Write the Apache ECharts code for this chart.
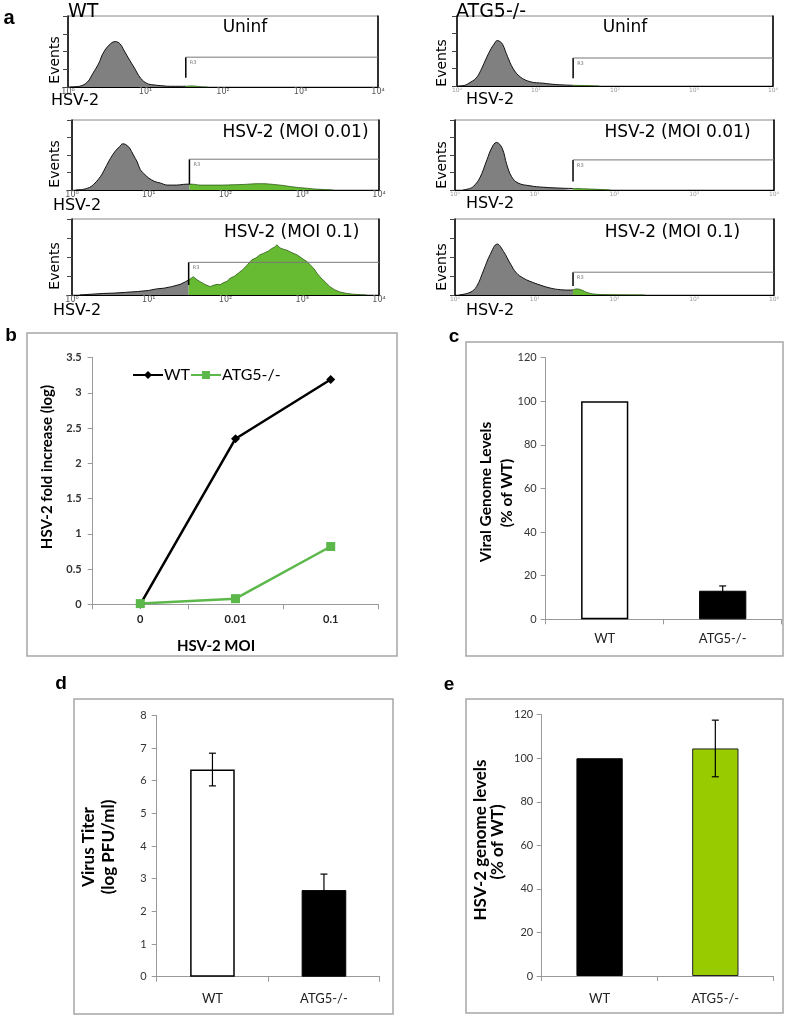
<!DOCTYPE html>
<html><head><meta charset="utf-8">
<script src="https://cdn.jsdelivr.net/npm/echarts@6/dist/echarts.min.js"></script>
<style>html,body{margin:0;padding:0;background:#fff;}#c{width:787px;height:1016px;}</style>
</head><body><div id="c"></div>
<script>
// ===== DATA =====
// Panel a: flow histograms. x = log10 decade of HSV-2 fluorescence (0..4), y = events (% of axis max)
const decadeTicks = ['10\u2070', '10\u00b9', '10\u00b2', '10\u00b3', '10\u2074'];
const histWTUninf = [[0.02,0],[0.1,0.5],[0.15,1],[0.25,7],[0.32,19],[0.4,34],[0.45,47],[0.53,59],[0.61,64],[0.67,61],[0.72,52],[0.8,37],[0.85,28],[0.94,12],[1.02,5],[1.1,3],[1.19,2],[1.32,1],[1.45,1],[1.52,1],[1.6,1.5],[1.7,0.5],[1.8,0]];
const histWT001 = [[0.05,0],[0.15,1],[0.25,5],[0.37,19],[0.45,35],[0.5,45],[0.56,55],[0.62,62],[0.66,66],[0.7,65],[0.75,60],[0.8,50],[0.85,40],[0.89,29],[0.95,22],[1.0,17],[1.08,12],[1.15,10],[1.24,7],[1.36,7],[1.45,8],[1.53,8.5],[1.6,8],[1.67,7],[1.8,7],[1.95,7],[2.1,7.5],[2.25,8],[2.41,9],[2.5,9],[2.62,8],[2.75,6.5],[2.84,5],[2.95,3.5],[3.06,2.5],[3.15,1.5],[3.23,1],[3.4,0]];
const histWT01 = [[0.1,0],[0.25,1],[0.4,2],[0.55,2.5],[0.7,3.5],[0.85,4.5],[1.0,6],[1.1,8],[1.2,9],[1.3,11],[1.41,14],[1.48,17.5],[1.52,19.7],[1.58,24],[1.63,20],[1.67,17.5],[1.73,14],[1.8,11],[1.85,13],[1.89,14],[1.93,13.5],[1.97,16],[2.02,18],[2.06,22],[2.12,25],[2.17,29],[2.22,33],[2.28,39],[2.34,46],[2.4,49],[2.45,53],[2.5,55],[2.56,58],[2.6,61],[2.64,63],[2.67,66],[2.71,62],[2.76,60],[2.8,59],[2.84,57],[2.88,55],[2.93,53],[3.0,48],[3.06,44],[3.1,40],[3.15,35],[3.19,29],[3.23,24],[3.3,17],[3.36,11],[3.42,7],[3.49,4],[3.58,2],[3.67,1],[3.84,0]];
const histKOUninf = [[0.02,0],[0.1,1],[0.15,4],[0.24,11],[0.3,22],[0.34,32],[0.42,51],[0.47,60],[0.51,65],[0.55,63],[0.58,59],[0.64,42],[0.71,25],[0.8,13],[0.93,6],[1.09,4],[1.26,2],[1.47,1],[1.68,0.5],[1.8,0]];
const histKO001 = [[0.1,0],[0.18,2],[0.23,5],[0.31,17],[0.4,43],[0.46,60],[0.52,68],[0.59,60],[0.65,36],[0.71,19],[0.79,10],[0.94,6],[1.1,4],[1.36,2.5],[1.48,2.2],[1.53,2],[1.78,1],[1.95,0]];
const histKO01 = [[0.05,0],[0.19,3.5],[0.27,11],[0.36,33],[0.44,53],[0.53,67],[0.61,57],[0.69,42],[0.77,29],[0.86,22],[0.94,18],[1.07,13],[1.2,9],[1.32,7],[1.45,6.5],[1.48,7],[1.53,8],[1.59,6.5],[1.65,3.5],[1.74,1.3],[1.9,0.5],[2.38,0]];
const histograms = [histWTUninf, histWT001, histWT01, histKOUninf, histKO001, histKO01];
const histTitles = ['Uninf', 'HSV-2 (MOI 0.01)', 'HSV-2 (MOI 0.1)', 'Uninf', 'HSV-2 (MOI 0.01)', 'HSV-2 (MOI 0.1)'];
const gateX = [1.52, 1.53, 1.52, 1.47, 1.48, 1.48];
const gateTop = [42, 44, 43, 40, 43, 30];
const gateLow = [13, 8, 13, 11, 12, 12];
const gateName = 'R3';

// Panel b
const moiCats = ['0', '0.01', '0.1'];
const foldWT = [0, 2.35, 3.19];
const foldATG5 = [0.01, 0.08, 0.82];
const foldTicks = {min: 0, max: 3.5, interval: 0.5};
// Panels c, d, e
const genoCats = ['WT', 'ATG5-/-'];
const viralGenome = [100, 13.1];
const viralGenomeErr = [0, 2.2];
const titer = [6.34, 2.65];
const titerErr = [0.5, 0.49];
const hsvGenome = [100, 104.5];
const hsvGenomeErr = [0, 13];

// ===== LAYOUT / STYLE =====
const histGrids = [
  {left: 68, top: 16, width: 310, height: 71},
  {left: 72, top: 120, width: 307, height: 70},
  {left: 72, top: 219, width: 307, height: 76},
  {left: 457, top: 16, width: 316, height: 70},
  {left: 455, top: 120, width: 319, height: 70},
  {left: 455, top: 219, width: 319, height: 76}
];
const histSmooth = [0.4, 0.3, 0, 0.4, 0.4, 0.4];
const histTickFont = [8, 8, 8, 6, 6, 6];
const histTickColor = ['#555', '#555', '#555', '#999', '#999', '#999'];
const panelGrids = [
  {left: 92.7, top: 357.7, width: 285.6, height: 246.6},
  {left: 545.7, top: 357.7, width: 236, height: 261.6},
  {left: 156.7, top: 715.3, width: 223, height: 261.4},
  {left: 541.7, top: 714.7, width: 231.5, height: 261.3}
];
const CAL = 'Lato, "Open Sans", sans-serif';
const ARI = '"DejaVu Sans", sans-serif';
const GRAY = '#808080', GREEN = '#66bb33', LGREEN = '#5cb84a', YGREEN = '#99cc00';

const grids = [], xAxes = [], yAxes = [], series = [];

// ---- panel a
histograms.forEach((h, i) => {
  grids.push(Object.assign({show: true, borderColor: '#888', borderWidth: 1, containLabel: false}, histGrids[i]));
  xAxes.push({gridIndex: i, type: 'value', min: 0, max: 4, interval: 1,
    axisLine: {show: true, onZero: false, lineStyle: {color: '#000', width: 1}},
    axisTick: {show: false}, splitLine: {show: false},
    axisLabel: {formatter: v => decadeTicks[v], fontSize: histTickFont[i], color: histTickColor[i], margin: 1, fontFamily: ARI}});
  yAxes.push({gridIndex: i, type: 'value', min: 0, max: 100, interval: 25,
    axisLine: {show: true, lineStyle: {color: '#000', width: 1.5}},
    axisTick: {show: true, length: 5, lineStyle: {color: '#444'}},
    axisLabel: {show: false}, splitLine: {show: false}});
});
histograms.forEach((h, i) => {
  yAxes.push({gridIndex: i, type: 'value', position: 'right', min: 0, max: 100,
    axisLine: {show: true, lineStyle: {color: '#000', width: 1.5}},
    axisTick: {show: false}, axisLabel: {show: false}, splitLine: {show: false}});
});
histograms.forEach((h, i) => {
  const g = gateX[i];
  series.push({type: 'line', xAxisIndex: i, yAxisIndex: i, silent: true, symbol: 'none', smooth: histSmooth[i],
    data: h.filter(p => p[0] <= g), lineStyle: {color: '#111', width: 1}, areaStyle: {color: GRAY, opacity: 1}});
  series.push({type: 'line', xAxisIndex: i, yAxisIndex: i, silent: true, symbol: 'none', smooth: histSmooth[i],
    data: h.filter(p => p[0] >= g), lineStyle: {color: '#2d5a16', width: 0.8}, areaStyle: {color: GREEN, opacity: 1}});
  series.push({type: 'line', xAxisIndex: i, yAxisIndex: i, silent: true, symbol: 'none',
    data: [[g, gateLow[i]], [g, gateTop[i]]], lineStyle: {color: '#000', width: 1.5}});
  series.push({type: 'line', xAxisIndex: i, yAxisIndex: i, silent: true, symbol: 'circle', symbolSize: 0.01, showSymbol: true,
    data: [{value: [g, gateTop[i]], label: {show: true, formatter: gateName, position: [4, 3], fontSize: 5, color: '#777', fontFamily: ARI}}, [4, gateTop[i]]],
    lineStyle: {color: '#777', width: 1}});
});

// ---- panels b..e
const axisGray = '#999';
function catAxis(gi, cats, margin, bold) {
  return {gridIndex: gi, type: 'category', data: cats, boundaryGap: true,
    axisLine: {show: true, lineStyle: {color: axisGray, width: 1}},
    axisTick: {show: true, length: 5, lineStyle: {color: axisGray}},
    axisLabel: {fontFamily: CAL, fontSize: bold ? 11 : 13, fontWeight: bold ? 'bold' : 'normal', color: '#222', margin: margin},
    splitLine: {show: false}};
}
function valAxis(gi, min, max, interval, margin, bold) {
  return {gridIndex: gi, type: 'value', min: min, max: max, interval: interval,
    axisLine: {show: true, lineStyle: {color: axisGray, width: 1}},
    axisTick: {show: true, length: 5, lineStyle: {color: axisGray}},
    axisLabel: {fontFamily: CAL, fontSize: 11, fontWeight: bold ? 'bold' : 'normal', color: '#333', margin: margin},
    splitLine: {show: false}};
}
panelGrids.forEach(g => grids.push(Object.assign({containLabel: false}, g)));
xAxes.push(catAxis(6, moiCats, 10, true));
xAxes.push(catAxis(7, genoCats, 13, false));
xAxes.push(catAxis(8, genoCats, 16, false));
xAxes.push(catAxis(9, genoCats, 16, false));
yAxes.push(valAxis(6, foldTicks.min, foldTicks.max, foldTicks.interval, 11, true));
yAxes.push(valAxis(7, 0, 120, 20, 9, false));
yAxes.push(valAxis(8, 0, 8, 1, 10, false));
yAxes.push(valAxis(9, 0, 120, 20, 8.5, false));
const yb = 12; // yAxis index offset for panels (6 left + 6 right axes)

series.push({name: 'WT', type: 'line', xAxisIndex: 6, yAxisIndex: yb, data: foldWT, silent: true,
  symbol: 'diamond', symbolSize: 9, color: '#000', lineStyle: {color: '#000', width: 2.5}, itemStyle: {color: '#000'}});
series.push({name: 'ATG5-/-', type: 'line', xAxisIndex: 6, yAxisIndex: yb, data: foldATG5, silent: true,
  symbol: 'rect', symbolSize: 9, color: LGREEN, lineStyle: {color: LGREEN, width: 2.5}, itemStyle: {color: LGREEN}});

const barStyles = {
  c: [{color: '#fff', borderColor: '#000', borderWidth: 1.5}, {color: '#000', borderColor: '#000', borderWidth: 1}],
  d: [{color: '#fff', borderColor: '#000', borderWidth: 1.5}, {color: '#000', borderColor: '#000', borderWidth: 1}],
  e: [{color: '#000', borderColor: '#000', borderWidth: 1}, {color: YGREEN, borderColor: '#222', borderWidth: 1}]
};
function errRender(params, api) {
  const x = api.value(0), y = api.value(1), e = api.value(2);
  if (!e) return null;
  const hi = api.coord([x, y + e]), lo = api.coord([x, y - e]);
  const w = 3.5, st = {stroke: '#000', lineWidth: 1.2};
  return {type: 'group', children: [
    {type: 'line', shape: {x1: hi[0], y1: hi[1], x2: lo[0], y2: lo[1]}, style: st},
    {type: 'line', shape: {x1: hi[0] - w, y1: hi[1], x2: hi[0] + w, y2: hi[1]}, style: st},
    {type: 'line', shape: {x1: lo[0] - w, y1: lo[1], x2: lo[0] + w, y2: lo[1]}, style: st}
  ]};
}
[[7, viralGenome, viralGenomeErr, barStyles.c], [8, titer, titerErr, barStyles.d], [9, hsvGenome, hsvGenomeErr, barStyles.e]].forEach(([gi, vals, errs, sty]) => {
  series.push({type: 'bar', xAxisIndex: gi, yAxisIndex: yb + gi - 6, barWidth: '40%', silent: true,
    data: vals.map((v, k) => ({value: v, itemStyle: sty[k]}))});
  series.push({type: 'custom', xAxisIndex: gi, yAxisIndex: yb + gi - 6, silent: true, z: 5,
    renderItem: errRender, encode: {x: 0, y: 1}, data: vals.map((v, k) => [k, v, errs[k]])});
});

// ---- text / frames
function txt(x, y, text, font, opts) {
  opts = opts || {};
  return {type: 'text', x: x, y: y, rotation: opts.rot || 0, silent: true, z: 100,
    style: {text: text, font: font, fill: opts.fill || '#000', textAlign: opts.align || 'center', align: opts.align || 'center',
      textVerticalAlign: 'middle', verticalAlign: 'middle'}};
}
function frame(x, y, w, h) {
  return {type: 'rect', shape: {x: x, y: y, width: w, height: h}, silent: true, z: -1,
    style: {fill: 'none', stroke: '#a6a6a6', lineWidth: 1.5}};
}
const R = Math.PI / 2;
const graphic = [
  frame(27, 333, 370, 323), frame(466, 342, 317, 314), frame(74, 699, 319, 315), frame(466, 699, 317, 314),
  txt(9, 18, 'a', 'bold 20px "Liberation Sans", Arial'),
  txt(11, 336, 'b', 'bold 19px "Liberation Sans", Arial'),
  txt(454, 337, 'c', 'bold 19px "Liberation Sans", Arial'),
  txt(61, 684, 'd', 'bold 19px "Liberation Sans", Arial'),
  txt(449, 685, 'e', 'bold 19px "Liberation Sans", Arial'),
  txt(68, 12, 'WT', '19px ' + ARI, {align: 'left'}),
  txt(456, 12, 'ATG5-/-', '19px ' + ARI, {align: 'left'}),
  txt(245, 28, histTitles[0], '17px ' + ARI),
  txt(295.5, 133, histTitles[1], '17px ' + ARI),
  txt(291.7, 233, histTitles[2], '17px ' + ARI),
  txt(625, 28, histTitles[3], '17px ' + ARI),
  txt(677.5, 133, histTitles[4], '17px ' + ARI),
  txt(672.5, 233, histTitles[5], '17px ' + ARI),
  txt(75, 101, 'HSV-2', '16px ' + ARI), txt(77, 206, 'HSV-2', '16px ' + ARI), txt(77, 311, 'HSV-2', '16px ' + ARI),
  txt(490, 100, 'HSV-2', '16px ' + ARI), txt(490, 204, 'HSV-2', '16px ' + ARI), txt(490, 311, 'HSV-2', '16px ' + ARI),
  txt(55, 60, 'Events', '14px ' + ARI, {rot: R}), txt(55, 164, 'Events', '14px ' + ARI, {rot: R}), txt(55, 266, 'Events', '14px ' + ARI, {rot: R}),
  txt(442, 63, 'Events', '14px ' + ARI, {rot: R}), txt(442, 165, 'Events', '14px ' + ARI, {rot: R}), txt(442, 267, 'Events', '14px ' + ARI, {rot: R}),
  txt(47.5, 467, 'HSV-2 fold increase (log)', 'bold 15px ' + CAL, {rot: R}),
  txt(216, 646, 'HSV-2 MOI', 'bold 15px ' + CAL),
  txt(486, 492, 'Viral Genome Levels', 'bold 15.5px ' + CAL, {rot: R}),
  txt(507, 493, '(% of WT)', 'bold 15.5px ' + CAL, {rot: R}),
  txt(89, 847, 'Virus Titer', 'bold 17px ' + CAL, {rot: R}),
  txt(109, 847, '(log PFU/ml)', 'bold 17px ' + CAL, {rot: R}),
  txt(481, 840, 'HSV-2 genome levels', 'bold 17px ' + CAL, {rot: R}),
  txt(497.5, 842, '(% of WT)', 'bold 17px ' + CAL, {rot: R})
];

const chart = echarts.init(document.getElementById('c'), null, {renderer: 'canvas'});
chart.setOption({
  animation: false,
  backgroundColor: '#fff',
  grid: grids, xAxis: xAxes, yAxis: yAxes, series: series,
  legend: {data: ['WT', 'ATG5-/-'], left: 127, top: 362, itemWidth: 30, itemHeight: 10, itemGap: 0,
    textStyle: {fontFamily: CAL, fontSize: 16, color: '#000', padding: [0, 0, 0, -4]}, selectedMode: false},
  graphic: graphic
});
</script></body></html>
